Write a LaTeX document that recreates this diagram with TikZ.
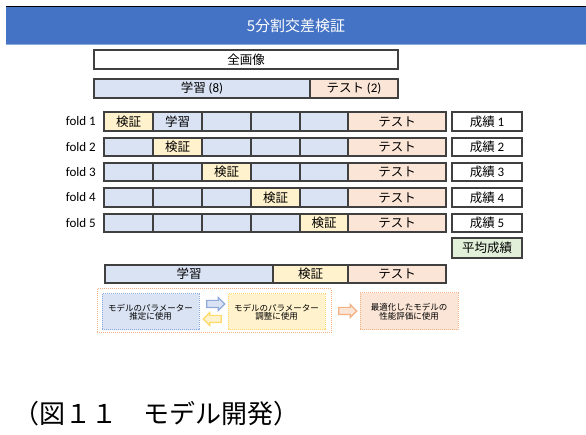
\documentclass[tikz,border=0pt]{standalone}
\usepackage{fontspec}
\setmainfont{Noto Sans CJK JP}
\newfontfamily\lat{Carlito}
\usetikzlibrary{shapes.arrows}
\definecolor{titleblue}{HTML}{4472C4}
\definecolor{boxline}{HTML}{404040}
\definecolor{lblue}{HTML}{DAE3F3}
\definecolor{lyellow}{HTML}{FFF2CC}
\definecolor{lorange}{HTML}{FBE5D6}
\definecolor{lgreen}{HTML}{E2F0D9}
\definecolor{dblue}{HTML}{8FAADC}
\definecolor{dyellow}{HTML}{FFD966}
\definecolor{dorange}{HTML}{F4B183}
\newcommand\fsz[1]{\fontsize{#1}{#1}\selectfont}
\newcommand\cellnode[7]{%
  \node[#6, minimum width={(#4-#2)*1pt}, minimum height={(#5-#3)*1pt}] (#1) at ({(#2+#4)/2},{(#3+#5)/2}) {#7};}
\tikzset{
  cell/.style={draw=boxline, line width=1.3pt, inner sep=0pt, font=\fsz{12.5}},
  tr/.style={cell, fill=lblue},
  va/.style={cell, fill=lyellow},
  te/.style={cell, fill=lorange},
  sc/.style={cell, fill=white},
  foldlbl/.style={anchor=east, inner sep=0pt, font=\lat\fsz{13}},
  legbox/.style={line width=1pt, densely dotted, inner sep=0pt, font=\fsz{8.5}, align=center},
  larrow/.style={single arrow, line width=1.2pt, inner sep=3pt, minimum height=18pt, single arrow head extend=3pt},
}
\begin{document}
\begin{tikzpicture}[x=1pt,y=-1pt]
\useasboundingbox (0,0) rectangle (586,435);
% title
\cellnode{title}{6}{7}{586}{44}{fill=titleblue, inner sep=0pt, text=white, font=\fsz{15}}{5分割交差検証}
\draw[line width=1pt, black] (title.north west) -- (title.north east);
\draw[line width=1pt, dblue] (title.south west) -- (title.south east);
% top bars
\cellnode{full}{94}{50}{398}{69}{sc}{全画像}
\cellnode{tr8}{94}{79}{310}{98}{tr}{学習 {\lat\fsz{13}(8)}}
\cellnode{te2}{310}{79}{398}{98}{te}{テスト {\lat\fsz{13}(2)}}
% fold 1
\cellnode{fa1}{104}{112}{153}{131}{va}{検証}
\cellnode{fa2}{153}{112}{202}{131}{tr}{学習}
\cellnode{fa3}{202}{112}{251}{131}{tr}{}
\cellnode{fa4}{251}{112}{300}{131}{tr}{}
\cellnode{fa5}{300}{112}{348}{131}{tr}{}
\cellnode{fat}{348}{112}{446}{131}{te}{テスト}
\cellnode{fas}{452}{112}{522}{131}{sc}{成績 {\lat\fsz{13}1}}
\node[foldlbl] (fl1) at (96,121.5) {fold 1};
% fold 2
\cellnode{fb1}{104}{138}{153}{156}{tr}{}
\cellnode{fb2}{153}{138}{202}{156}{va}{検証}
\cellnode{fb3}{202}{138}{251}{156}{tr}{}
\cellnode{fb4}{251}{138}{300}{156}{tr}{}
\cellnode{fb5}{300}{138}{348}{156}{tr}{}
\cellnode{fbt}{348}{138}{446}{156}{te}{テスト}
\cellnode{fbs}{452}{138}{522}{156}{sc}{成績 {\lat\fsz{13}2}}
\node[foldlbl] (fl2) at (96,147) {fold 2};
% fold 3
\cellnode{fc1}{104}{163}{153}{181}{tr}{}
\cellnode{fc2}{153}{163}{202}{181}{tr}{}
\cellnode{fc3}{202}{163}{251}{181}{va}{検証}
\cellnode{fc4}{251}{163}{300}{181}{tr}{}
\cellnode{fc5}{300}{163}{348}{181}{tr}{}
\cellnode{fct}{348}{163}{446}{181}{te}{テスト}
\cellnode{fcs}{452}{163}{522}{181}{sc}{成績 {\lat\fsz{13}3}}
\node[foldlbl] (fl3) at (96,172) {fold 3};
% fold 4
\cellnode{fd1}{104}{188}{153}{207}{tr}{}
\cellnode{fd2}{153}{188}{202}{207}{tr}{}
\cellnode{fd3}{202}{188}{251}{207}{tr}{}
\cellnode{fd4}{251}{188}{300}{207}{va}{検証}
\cellnode{fd5}{300}{188}{348}{207}{tr}{}
\cellnode{fdt}{348}{188}{446}{207}{te}{テスト}
\cellnode{fds}{452}{188}{522}{207}{sc}{成績 {\lat\fsz{13}4}}
\node[foldlbl] (fl4) at (96,197.5) {fold 4};
% fold 5
\cellnode{fe1}{104}{214}{153}{232}{tr}{}
\cellnode{fe2}{153}{214}{202}{232}{tr}{}
\cellnode{fe3}{202}{214}{251}{232}{tr}{}
\cellnode{fe4}{251}{214}{300}{232}{tr}{}
\cellnode{fe5}{300}{214}{348}{232}{va}{検証}
\cellnode{fet}{348}{214}{446}{232}{te}{テスト}
\cellnode{fes}{452}{214}{522}{232}{sc}{成績 {\lat\fsz{13}5}}
\node[foldlbl] (fl5) at (96,223) {fold 5};
% average
\cellnode{avg}{452}{238}{522}{258}{cell, fill=lgreen}{平均成績}
% bottom bar
\cellnode{btr}{105}{265}{273}{283}{tr}{学習}
\cellnode{bva}{273}{265}{348}{283}{va}{検証}
\cellnode{bte}{348}{265}{446}{283}{te}{テスト}
% legend
\cellnode{lgout}{97}{289}{331}{333}{legbox, draw=dorange, fill=white}{}
\cellnode{lgb}{102}{294}{199}{330}{legbox, draw=dblue, fill=lblue}{モデルのパラメーター\\推定に使用}
\cellnode{lgy}{228}{294}{325}{330}{legbox, draw=dyellow, fill=lyellow}{モデルのパラメーター\\調整に使用}
\cellnode{lgo}{360}{293}{458}{330}{legbox, draw=dorange, fill=lorange}{最適化したモデルの\\性能評価に使用}
\node[larrow, draw=dblue, fill=lblue] (arb) at (214,304) {};
\node[larrow, draw=dyellow, fill=lyellow, shape border rotate=180] (ary) at (214,319) {};
\node[larrow, draw=dorange, fill=lorange] (aro) at (346,311) {};
% caption
\node[anchor=west, inner sep=0pt, font=\fsz{26}] (cap) at (13,414) {（図１１　モデル開発）};
\end{tikzpicture}
\end{document}
